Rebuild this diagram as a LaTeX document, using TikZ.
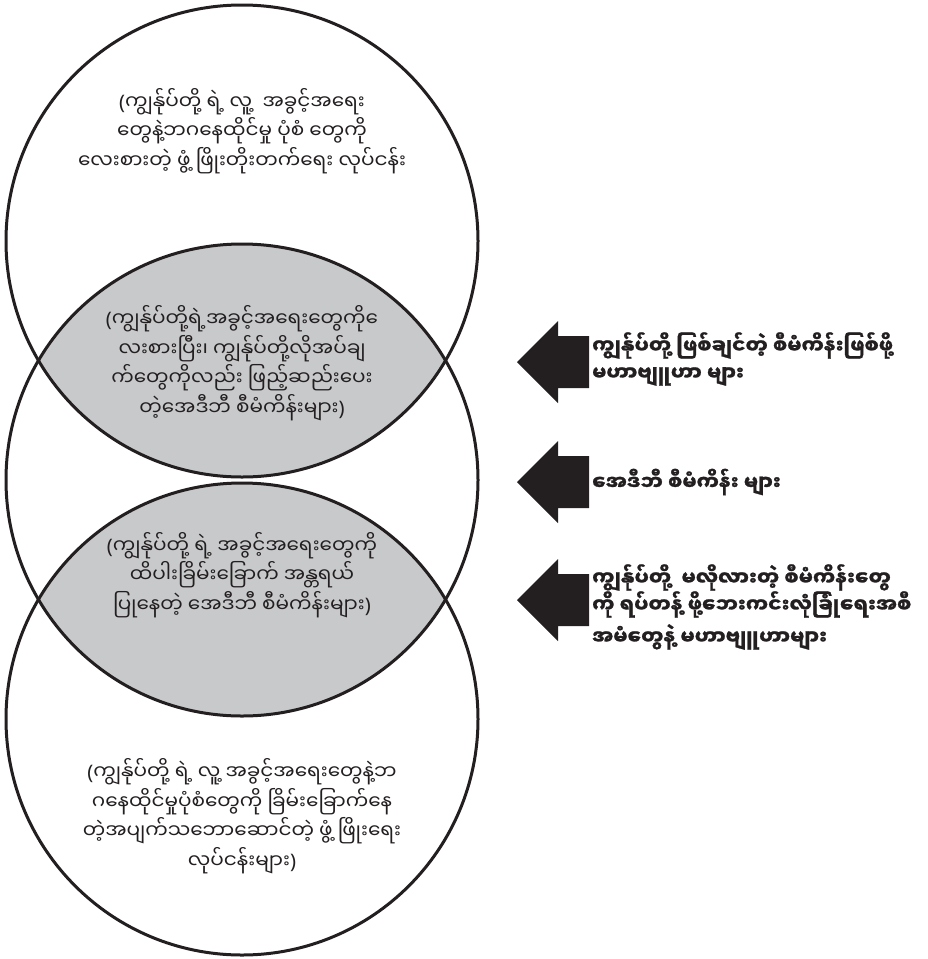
\documentclass[tikz,border=0pt]{standalone}
\usepackage{fontspec}
\newfontfamily\mm[Script=Myanmar]{Noto Sans Myanmar UI}
\newfontfamily\mmb[Script=Myanmar,BoldFeatures={FakeBold=1.2}]{Noto Sans Myanmar UI}
\newfontfamily\pf{Noto Sans}
\definecolor{lensgray}{RGB}{200,201,203}
\definecolor{ink}{RGB}{35,31,32}
\newcommand\preE{\XeTeXglyph\XeTeXcharglyph"1031\relax}
\newcommand\lp{{\pf(}}
\newcommand\rp{{\pf)}}
\begin{document}
\begin{tikzpicture}[x=1pt,y=-1pt,
  ring/.style={draw=ink,line width=3pt},
  circtext/.style={align=center,font=\mm\fontsize{20}{29.5}\selectfont,text=ink,inner sep=0pt},
  arrtext/.style={align=left,anchor=west,font=\mmb\bfseries\fontsize{20}{27}\selectfont,text=ink,inner sep=0pt},
  larrow/.pic={\fill[ink] (-41,0) -- (0,-41) -- (0,-26) -- (31,-26) -- (31,26) -- (0,26) -- (0,41) -- cycle;}]
\useasboundingbox (0,0) rectangle (927,959);
\fill[white] (0,0) rectangle (927,959);
\coordinate (c1) at (242,241);
\coordinate (c2) at (242,480);
\coordinate (c3) at (242,719);
\begin{scope}
  \clip (c1) circle[radius=236pt];
  \fill[lensgray] (c2) circle[radius=236pt];
\end{scope}
\begin{scope}
  \clip (c3) circle[radius=236pt];
  \fill[lensgray] (c2) circle[radius=236pt];
\end{scope}
\draw[ring] (c1) circle[radius=236pt];
\draw[ring] (c2) circle[radius=236pt];
\draw[ring] (c3) circle[radius=236pt];

\node[circtext] (t1) at (242,131) {\lp ကျွန်ုပ်တို့ ရဲ့ လူ့\ \ အခွင့်အရေး\\တွေနဲ့ဘဂနေထိုင်မှု ပုံစံ တွေကို\\လေးစားတဲ့ ဖွံ့ ဖြိုးတိုးတက်ရေး လုပ်ငန်း};
\node[circtext] (t2) at (242,363) {\lp ကျွန်ုပ်တို့ရဲ့အခွင့်အရေးတွေကို\preE\\လးစားပြီး၊ ကျွန်ုပ်တို့လိုအပ်ချ\\က်တွေကိုလည်း ဖြည့်ဆည်းပေး\\တဲ့အေဒီဘီ စီမံကိန်းများ\rp};
\node[circtext] (t3) at (242,575) {\lp ကျွန်ုပ်တို့ ရဲ့ အခွင့်အရေးတွေကို\\ထိပါးခြိမ်းခြောက် အန္တရယ်\\ပြုနေတဲ့ အေဒီဘီ စီမံကိန်းများ\rp};
\node[circtext] (t4) at (242,816) {\lp ကျွန်ုပ်တို့ ရဲ့ လူ့ အခွင့်အရေးတွေနဲ့ဘ\\ဂနေထိုင်မှုပုံစံတွေကို ခြိမ်းခြောက်နေ\\တဲ့အပျက်သဘောဆောင်တဲ့ ဖွံ့ ဖြိုးရေး\\လုပ်ငန်းများ\rp};

\pic (ar1) at (558,362) {larrow};
\pic (ar2) at (558,482) {larrow};
\pic (ar3) at (558,600) {larrow};

\node[arrtext] (a1) at (592,359) {ကျွန်ုပ်တို့ ဖြစ်ချင်တဲ့ စီမံကိန်းဖြစ်ဖို့\\မဟာဗျူဟာ များ};
\node[arrtext] (a2) at (592,482) {အေဒီဘီ စီမံကိန်း များ};
\node[arrtext] (a3) at (592,607) {ကျွန်ုပ်တို့\ \ မလိုလားတဲ့ စီမံကိန်းတွေ\\ကို ရပ်တန့် ဖို့ဘေးကင်းလုံခြုံရေးအစီ\\[5pt]အမံတွေနဲ့ မဟာဗျူဟာများ};
\end{tikzpicture}
\end{document}
